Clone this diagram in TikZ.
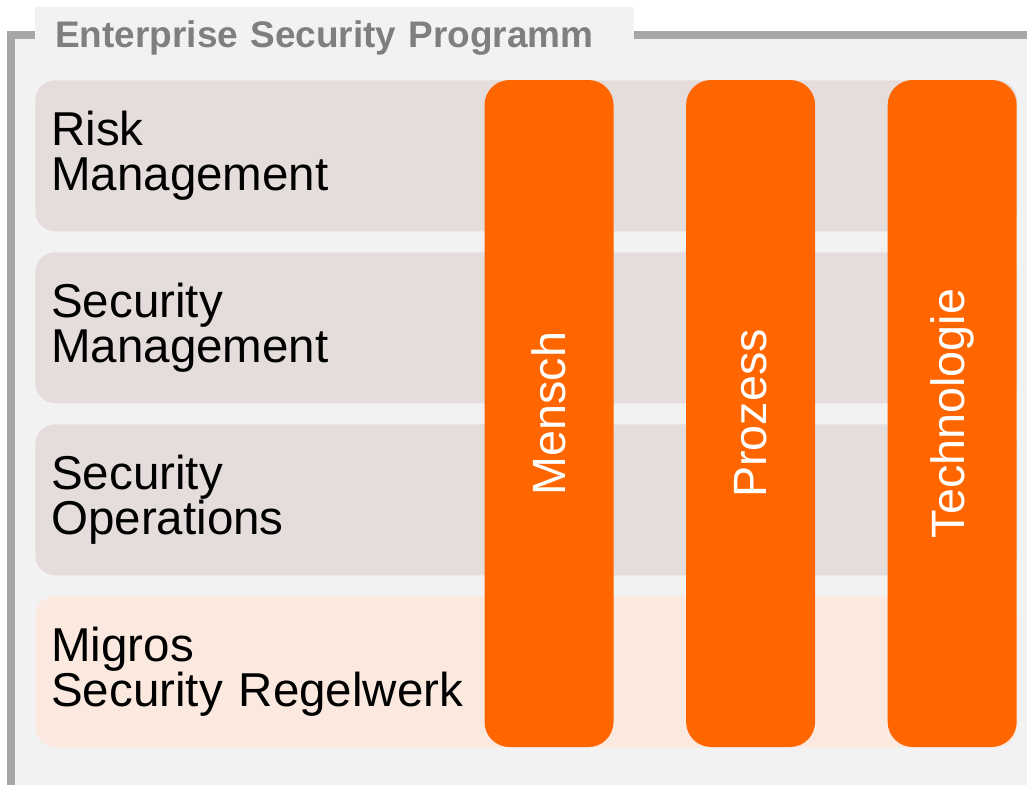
\documentclass[tikz,border=0pt]{standalone}
\usepackage{fontspec}
\usepackage{graphicx}
\setmainfont{Liberation Sans}
\usetikzlibrary{shapes,arrows,positioning}

\definecolor{hintergrund}{HTML}{F2F2F2}
\definecolor{rahmengrau}{HTML}{A6A6A6}
\definecolor{titelgrau}{HTML}{7F7F7F}
\definecolor{zeilengrau}{HTML}{E4DDDB}
\definecolor{zeilenpfirsich}{HTML}{FBE9E0}
\definecolor{migrosorange}{HTML}{FF6600}

\begin{document}
\begin{tikzpicture}[auto, node distance=1cm,
    zeile/.style={rectangle, rounded corners=0.5cm, fill=zeilengrau, minimum width=24.55cm, minimum height=3.775cm, text width=23.75cm, inner xsep=0.4cm, align=left, font=\fontsize{33.8pt}{32pt}\selectfont},
    saeule/.style={rectangle, rounded corners=0.625cm, fill=migrosorange, text=white, minimum width=3.225cm, minimum height=16.675cm, inner sep=0pt, font=\fontsize{33.2pt}{32pt}\selectfont}]

      \useasboundingbox (0,0) rectangle (25.675,-19.625);

      % Hintergrund und Rahmen
      \fill [hintergrund] (0.275,-0.875) rectangle (25.675,-19.625);
      \coordinate (ecke) at (0.275,-0.875);
      \draw [rahmengrau, line width=0.2cm] (25.675,-0.875) -- (ecke) -- (0.275,-19.625);

      % Titel
      \node [rectangle, fill=hintergrund, anchor=north west, minimum width=14.975cm, minimum height=1.55cm, text width=13.975cm, inner xsep=0.5cm, align=left, text=titelgrau, font=\fontsize{26.3pt}{30pt}\selectfont\bfseries] (titel) at (0.875,-0.175) {Enterprise Security Programm};

      % Zeilen
      \node [zeile, anchor=north west] (risiko) at (0.875,-2.0) {Risk\\Management};
      \node [zeile, below of=risiko, node distance=4.3cm] (sicherheit) {Security\\Management};
      \node [zeile, below of=sicherheit, node distance=4.3cm] (betrieb) {Security\\Operations};
      \node [zeile, below of=betrieb, node distance=4.3cm, fill=zeilenpfirsich] (regelwerk) {Migros\\Security Regelwerk};

      % Saeulen
      \node [saeule] (mensch) at (13.725,-10.3375) {\rotatebox{90}{Mensch}};
      \node [saeule, right of=mensch, node distance=5.04cm] (prozess) {\rotatebox{90}{Prozess}};
      \node [saeule, right of=prozess, node distance=5.04cm] (technologie) {\rotatebox{90}{Technologie}};

    \end{tikzpicture}
\end{document}
